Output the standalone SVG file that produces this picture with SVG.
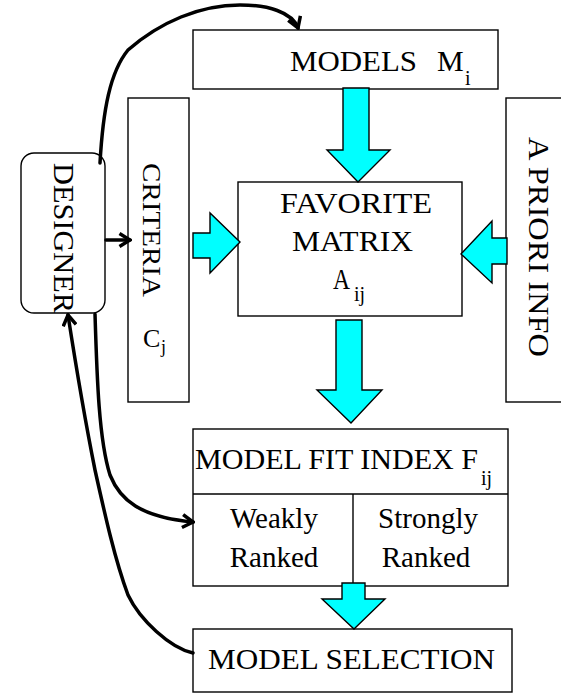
<svg xmlns="http://www.w3.org/2000/svg" width="561" height="694" viewBox="0 0 561 694">
  <style>
    .box { fill: #ffffff; stroke: #000000; stroke-width: 1.4; }
    .blk { fill: #00ffff; stroke: #000000; stroke-width: 1.4; stroke-linejoin: miter; }
    .t { font-family: "Liberation Serif", "Times New Roman", serif; font-size: 30px; fill: #000000; }
    .sub { font-family: "Liberation Serif", "Times New Roman", serif; font-size: 20px; fill: #000000; }
    .link { fill: none; stroke: #000000; stroke-width: 3.5; stroke-linecap: round; }
  </style>
  <defs>
    <marker id="chev" viewBox="0 0 14 16" refX="12" refY="8" markerWidth="14" markerHeight="16" markerUnits="userSpaceOnUse" orient="auto">
      <path d="M1.5,1.5 L12,8 L1.5,14.5" fill="none" stroke="#000000" stroke-width="3.5" stroke-linejoin="miter"/>
    </marker>
  </defs>

  <rect width="561" height="694" fill="#ffffff"/>

  <!-- designer -->
  <g id="designer">
    <rect class="box" x="21" y="153" width="84" height="160" rx="13" ry="13"/>
    <text class="t" transform="translate(54,163) rotate(90)" textLength="150" lengthAdjust="spacingAndGlyphs">DESIGNER</text>
  </g>

  <!-- models -->
  <g id="models">
    <rect class="box" x="193" y="30" width="305" height="59"/>
    <text class="t" x="290" y="71" textLength="127" lengthAdjust="spacingAndGlyphs">MODELS</text>
    <text class="t" x="437" y="71">M</text>
    <text class="sub" x="465" y="85">i</text>
  </g>

  <!-- criteria -->
  <g id="criteria">
    <rect class="box" x="128" y="98" width="61" height="304"/>
    <text class="t" style="font-size:26px" transform="translate(143,163) rotate(90)" textLength="134" lengthAdjust="spacingAndGlyphs">CRITERIA</text>
    <text class="t" style="font-size:26px" x="143" y="347">C</text>
    <text class="sub" style="font-size:18px" x="161" y="353">j</text>
  </g>

  <!-- a priori info -->
  <g id="apriori">
    <rect class="box" x="506" y="98" width="70" height="304"/>
    <text class="t" style="font-size:29px" transform="translate(529,137) rotate(90)" textLength="220" lengthAdjust="spacingAndGlyphs">A PRIORI INFO</text>
  </g>

  <!-- favorite matrix -->
  <g id="favorite">
    <rect class="box" x="238" y="182" width="224" height="134"/>
    <text class="t" x="280" y="213" textLength="152" lengthAdjust="spacingAndGlyphs">FAVORITE</text>
    <text class="t" x="292" y="251" textLength="121" lengthAdjust="spacingAndGlyphs">MATRIX</text>
    <text class="t" x="333" y="289" textLength="17" lengthAdjust="spacingAndGlyphs">A</text>
    <text class="sub" x="354" y="301">ij</text>
  </g>

  <!-- model fit index -->
  <g id="fitindex">
    <rect class="box" x="193" y="429" width="315" height="157"/>
    <line x1="193" y1="494" x2="508" y2="494" stroke="#000" stroke-width="1.4"/>
    <line x1="353" y1="494" x2="353" y2="586" stroke="#000" stroke-width="1.4"/>
    <text class="t" x="195" y="469" textLength="283" lengthAdjust="spacingAndGlyphs">MODEL FIT INDEX F</text>
    <text class="sub" x="481" y="485">ij</text>
    <text class="t" style="font-size:29px" x="274" y="528" text-anchor="middle">Weakly</text>
    <text class="t" style="font-size:29px" x="274" y="567" text-anchor="middle">Ranked</text>
    <text class="t" style="font-size:29px" x="428" y="528" text-anchor="middle">Strongly</text>
    <text class="t" style="font-size:29px" x="426" y="567" text-anchor="middle">Ranked</text>
  </g>

  <!-- model selection -->
  <g id="selection">
    <rect class="box" x="193" y="629" width="319" height="63"/>
    <text class="t" x="208" y="669" textLength="287" lengthAdjust="spacingAndGlyphs">MODEL SELECTION</text>
  </g>

  <!-- block arrows feeding the matrix and the selection -->
  <g id="flow">
    <polygon class="blk" points="343,88 369,88 369,150 390,150 358,182 327,150 343,150"/>
    <polygon class="blk" points="193,233 210,233 210,213 240,242 210,273 210,258 193,258"/>
    <polygon class="blk" points="507,238 492,238 492,221 461,254 492,283 492,264 507,264"/>
    <polygon class="blk" points="336,320 362,320 362,390 382,390 351,423 317,390 336,390"/>
    <polygon class="blk" points="342,583 365,583 365,599 385,599 354,629 322,599 342,599"/>
  </g>

  <!-- designer feedback loops -->
  <g id="connectors">
    <path class="link" d="M100,163 C103,110 110,72 128,50 C160,22 200,5 240,5 C268,5 292,12 298,28" marker-end="url(#chev)"/>
    <path class="link" d="M106,240 L130,240" marker-end="url(#chev)"/>
    <path class="link" d="M95,314 C97,380 99,440 110,475 C120,500 140,517 193,522" marker-end="url(#chev)"/>
    <path class="link" d="M193,653 C170,648 140,620 128,595 C115,560 105,515 95,470 C85,420 75,360 68,315" marker-end="url(#chev)"/>
  </g>
</svg>
